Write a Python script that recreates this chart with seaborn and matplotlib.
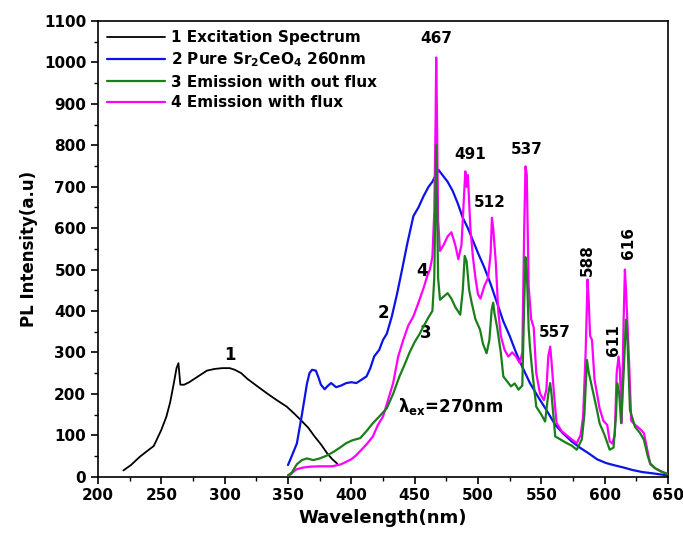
import numpy as np
import pandas as pd
import matplotlib
matplotlib.use("Agg")
import matplotlib.pyplot as plt
import seaborn as sns
from matplotlib.ticker import MultipleLocator

# ----- Data -----
exc_x = [220, 226, 233, 238, 244, 250, 254, 257, 260, 262, 263.5, 265, 268, 272, 278, 286, 292,
         298, 304, 308, 313, 318, 325, 333, 341, 349, 355, 360, 366, 371, 376, 381, 385, 389]
exc_y = [15, 28, 48, 60, 74, 113, 145, 180, 228, 262, 274, 222, 222, 228, 240, 256, 260,
         262, 262, 258, 250, 236, 220, 202, 185, 169, 152, 137, 118, 97, 78, 56, 42, 31]

pure_x = [350, 353, 357, 361, 365, 367, 369, 372, 374, 376, 379, 381, 384, 388, 392, 396, 400,
          404, 408, 412, 415, 418, 422, 425, 428, 432, 436, 440, 444, 449, 453, 457, 461, 464,
          467, 469, 472, 476, 480, 484, 488, 492, 496, 500, 505, 510, 515, 520, 525, 530, 535,
          541, 548, 554, 561, 567, 574, 581, 588, 594, 601, 607, 615, 622, 630, 638, 645, 650]
pure_y = [28, 50, 80, 150, 225, 250, 258, 256, 240, 222, 211, 218, 226, 216, 220, 226, 228,
          226, 234, 242, 262, 290, 306, 330, 345, 387, 440, 499, 560, 629, 650, 677, 700, 712,
          730, 740, 728, 712, 690, 660, 625, 600, 570, 540, 505, 465, 420, 375, 340, 300, 265,
          226, 190, 161, 125, 105, 85, 69, 55, 42, 33, 28, 22, 16, 11, 8, 5, 3]

noflux_x = [350, 353, 357, 361, 365, 370, 375, 380, 386, 391, 396, 401, 407, 412, 417, 422, 428,
            433, 438, 442, 446, 450, 454, 457, 461, 464, 465.5, 466.5, 467, 467.5, 468.5, 470,
            473, 476, 479, 482, 486, 488, 489.5, 491, 493, 495, 498, 501.6, 504, 506.8, 509,
            510.8, 512, 513, 515, 518, 520, 523, 526, 529, 532, 535, 536.5, 537.5, 538.5, 540,
            541, 543, 546, 550, 553, 555.5, 557, 558, 561, 565, 570, 574, 578, 582, 584, 586,
            587.5, 589, 591, 594, 596, 600, 604, 607, 609, 610, 611.5, 613, 615, 616.8, 618,
            620, 624, 628, 631, 634, 636, 640, 645, 650]
noflux_y = [3, 10, 30, 40, 44, 40, 44, 50, 60, 70, 81, 88, 93, 110, 129, 145, 165,
            200, 242, 270, 300, 325, 345, 363, 385, 400, 480, 700, 800, 700, 480, 427,
            435, 443, 430, 410, 391, 450, 533, 520, 451, 420, 380, 355, 320, 298, 330,
            403, 420, 395, 363, 300, 242, 230, 218, 225, 210, 220, 420, 530, 500, 360,
            314, 250, 169, 150, 133, 200, 226, 200, 97, 90, 81, 75, 65, 90, 150, 282,
            250, 230, 202, 160, 129, 100, 65, 70, 150, 226, 200, 129, 250, 379, 330,
            161, 120, 105, 89, 50, 32, 20, 12, 6]

flux_x = [350, 352, 355, 357, 362, 367, 375, 385, 392, 396, 400, 404, 408, 412, 417, 421, 425,
          429, 433, 437, 441, 445, 449, 453, 457, 460, 462, 464, 465.5, 466.5, 467, 467.5, 468.5,
          470, 473, 476, 479, 482, 484.5, 487, 489, 490, 491, 492, 494, 496, 498, 500, 502, 505,
          508, 510, 511, 512, 513, 514, 516, 518, 521, 524, 527, 530, 533, 535, 536.5, 537.5,
          538.5, 540, 542, 544, 546, 549, 552, 554, 555.5, 557, 558, 560, 562, 566, 570, 574,
          578, 581, 583, 585, 586.5, 587.5, 588.5, 590, 592, 594, 596, 599, 602, 604, 606, 608,
          609.5, 611, 612, 613.5, 615, 616, 617, 619, 621, 624, 628, 631, 634, 636, 640, 645, 650]
flux_y = [3, 5, 14, 18, 22, 24, 25, 25, 30, 36, 42, 52, 65, 78, 97, 125, 145,
          185, 226, 290, 330, 365, 387, 420, 455, 485, 500, 530, 640, 850, 1012, 900, 620,
          545, 560, 580, 590, 560, 525, 560, 680, 737, 700, 728, 600, 530, 480, 440, 430, 460,
          480, 540, 625, 600, 560, 520, 400, 340, 306, 290, 300, 290, 274, 300, 600, 749,
          730, 460, 380, 360, 250, 200, 185, 210, 290, 314, 280, 200, 130, 110, 100, 90,
          81, 100, 145, 300, 476, 420, 340, 330, 234, 200, 165, 135, 125, 85, 80, 100,
          250, 290, 260, 130, 380, 500, 440, 300, 135, 125, 115, 105, 60, 30, 20, 12, 6]

labels = ["1 Excitation Spectrum", r"2 Pure Sr$_\mathbf{2}$CeO$_\mathbf{4}$ 260nm",
          "3 Emission with out flux", "4 Emission with flux"]
colors = ["black", "#0a14e6", "#1a7f1a", "#ff00ff"]
widths = [1.3, 1.6, 1.6, 1.6]

peak_labels = ["467", "491", "512", "537", "557", "588", "611", "616"]
peak_pos = [(467, 1058), (494, 778), (509.5, 661), (538.5, 790), (561, 347),
            (586.5, 524), (607, 330), (619, 564)]
peak_rot = [0, 0, 0, 0, 0, 90, 90, 90]

# ----- Plot -----
sns.set_style("ticks")
plt.rcParams['font.family'] = ['DejaVu Sans']
plt.rcParams['font.weight'] = 'bold'
plt.rcParams['mathtext.default'] = 'bf'
for key in ['text.color', 'axes.labelcolor', 'xtick.color', 'ytick.color', 'axes.edgecolor']:
    plt.rcParams[key] = 'black'

fig = plt.figure(figsize=(6.83, 5.46), dpi=100)
ax = fig.add_axes([0.1435, 0.127, 0.8345, 0.8345])

series = [(exc_x, exc_y), (pure_x, pure_y), (noflux_x, noflux_y), (flux_x, flux_y)]
zorders = [2, 2, 4, 3]
for (xs, ys), lab, col, lw, zo in zip(series, labels, colors, widths, zorders):
    sns.lineplot(x=xs, y=ys, ax=ax, color=col, label=lab, linewidth=lw, zorder=zo,
                 estimator=None)

ax.set_xlim(200, 650)
ax.set_ylim(0, 1100)
ax.xaxis.set_major_locator(MultipleLocator(50))
ax.xaxis.set_minor_locator(MultipleLocator(25))
ax.yaxis.set_major_locator(MultipleLocator(100))
ax.yaxis.set_minor_locator(MultipleLocator(50))
ax.tick_params(which='major', direction='out', length=5, width=1.2, labelsize=11)
ax.tick_params(which='minor', direction='out', length=3, width=1)
for lbl in ax.get_xticklabels() + ax.get_yticklabels():
    lbl.set_fontweight('bold')
for sp in ax.spines.values():
    sp.set_linewidth(1.2)
    sp.set_visible(True)

ax.set_xlabel("Wavelength(nm)", fontsize=13, fontweight='bold')
ax.set_ylabel("PL Intensity(a.u)", fontsize=12, fontweight='bold')

leg = ax.legend(loc='upper left', frameon=False, fontsize=11, handlelength=3.8,
                borderaxespad=0.2, labelspacing=0.35, handletextpad=0.4)
for t in leg.get_texts():
    t.set_fontweight('bold')

# curve numbers
ax.text(304, 294, "1", fontsize=12, fontweight='bold', ha='center', va='center')
ax.text(425, 395, "2", fontsize=12, fontweight='bold', ha='center', va='center')
ax.text(459, 347, "3", fontsize=12, fontweight='bold', ha='center', va='center')
ax.text(455.5, 496, "4", fontsize=12, fontweight='bold', ha='center', va='center')
ax.text(437, 169, r"$\lambda_{ex}$=270nm", fontsize=12, fontweight='bold', ha='left', va='center')

for lab, (px, py), rot in zip(peak_labels, peak_pos, peak_rot):
    ax.text(px, py, lab, fontsize=11, fontweight='bold', ha='center', va='center', rotation=rot)

fig.savefig("out.png", dpi=100)
